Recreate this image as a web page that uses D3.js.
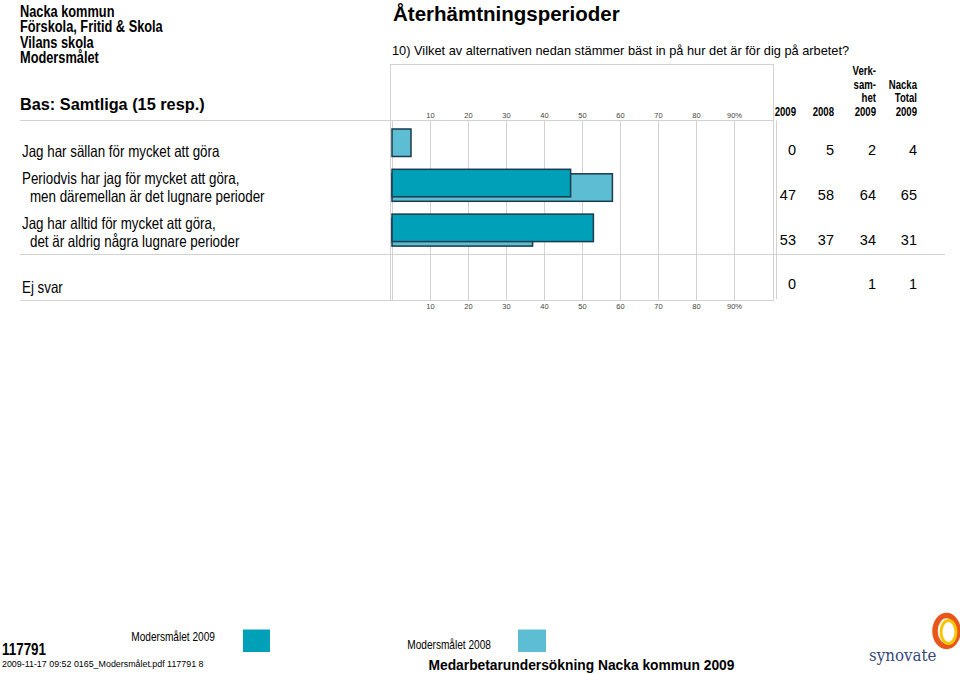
<!DOCTYPE html>
<html>
<head>
<meta charset="utf-8">
<script src="https://cdn.jsdelivr.net/npm/d3@7"></script>
<style>
  body { margin: 0; background: #fff; }
  svg { display: block; font-family: "Liberation Sans", Arial, Helvetica, sans-serif; }
</style>
</head>
<body>
<svg id="chart" width="960" height="674"></svg>
<script>
// ---------- data ----------
const headerLines = ["Nacka kommun", "Förskola, Fritid & Skola", "Vilans skola", "Modersmålet"];
const baseText = "Bas: Samtliga (15 resp.)";
const title = "Återhämtningsperioder";
const question = "10) Vilket av alternativen nedan stämmer bäst in på hur det är för dig på arbetet?";

const categories = [
  ["Jag har sällan för mycket att göra"],
  ["Periodvis har jag för mycket att göra,", "men däremellan är det lugnare perioder"],
  ["Jag har alltid för mycket att göra,", "det är aldrig några lugnare perioder"],
  ["Ej svar"]
];
const values2009 = [0, 47, 53, 0];
const values2008 = [5, 58, 37, null];
const valuesVerksamhet = [2, 64, 34, 1];
const valuesNacka = [4, 65, 31, 1];

const tickValues = [10, 20, 30, 40, 50, 60, 70, 80, 90];
const tickLabels = ["10", "20", "30", "40", "50", "60", "70", "80", "90%"];

const columnHeaders = [
  ["2009"],
  ["2008"],
  ["Verk-", "sam-", "het", "2009"],
  ["Nacka", "Total", "2009"]
];
const legendLabels = ["Modersmålet 2009", "Modersmålet 2008"];
const footerId = "117791";
const footerFile = "2009-11-17 09:52 0165_Modersmålet.pdf 117791  8";
const footerSurvey = "Medarbetarundersökning Nacka kommun 2009";

// ---------- styles ----------
const colDark = "#00a0b9";
const colLight = "#5cbdd3";
const barStroke = "#1c3a4c";
const gridCol = "#d2d2d2";

const svg = d3.select("#chart");

// condensed text helper (no narrow face installed -> horizontal scale)
function ctext(parent, x, y, str, size, sx, opts = {}) {
  const t = parent.append("text")
    .attr("transform", `translate(${x},${y}) scale(${sx},1)`)
    .attr("font-size", size)
    .text(str);
  if (opts.bold) t.attr("font-weight", "bold");
  if (opts.anchor) t.attr("text-anchor", opts.anchor);
  if (opts.fill) t.attr("fill", opts.fill);
  if (opts.family) t.style("font-family", opts.family);
  return t;
}

// ---------- scales ----------
const x = d3.scaleLinear().domain([0, 100]).range([392, 772]);
const rowKeys = categories.map((d, i) => i);
const y = d3.scaleBand().domain(rowKeys).range([127.5, 127.5 + 44.8 * 4]);
const barH = 27.5;

// ---------- header texts ----------
const hdr = svg.append("g");
headerLines.forEach((d, i) => ctext(hdr, 20, 16.5 + i * 15.6, d, 15.6, 0.82, {bold: true}));

svg.append("text")
  .attr("x", 20).attr("y", 110)
  .attr("font-size", 16.3).attr("font-weight", "bold")
  .text(baseText);

svg.append("text")
  .attr("x", 393).attr("y", 21)
  .attr("font-size", 20.5).attr("font-weight", "bold")
  .text(title);

svg.append("text")
  .attr("x", 392).attr("y", 55)
  .attr("font-size", 12.8)
  .text(question);

// ---------- frame / lines ----------
const lines = svg.append("g").attr("stroke", gridCol).attr("fill", "none").attr("stroke-width", 1);
lines.append("rect").attr("x", 390.5).attr("y", 64.5).attr("width", 383).attr("height", 236);
lines.append("line").attr("x1", 20).attr("x2", 773.5).attr("y1", 120.5).attr("y2", 120.5);
lines.append("line").attr("x1", 20).attr("x2", 945).attr("y1", 254.5).attr("y2", 254.5);
lines.append("line").attr("x1", 20).attr("x2", 391).attr("y1", 300.5).attr("y2", 300.5);
lines.append("line").attr("x1", x(0) + 0.5).attr("x2", x(0) + 0.5).attr("y1", 120.5).attr("y2", 300.5);
lines.append("line").attr("x1", 776.5).attr("x2", 776.5).attr("y1", 120.5).attr("y2", 299);

// gridlines
svg.append("g").selectAll("line").data(tickValues).join("line")
  .attr("x1", d => Math.round(x(d)) + 0.5).attr("x2", d => Math.round(x(d)) + 0.5)
  .attr("y1", 120.5).attr("y2", 300.5)
  .attr("stroke", gridCol).attr("stroke-width", 1);

// tick labels (top and bottom)
const fmt = (d, i) => tickLabels[i];
const axisTop = d3.axisTop(x).tickValues(tickValues).tickFormat(fmt).tickSize(0).tickPadding(0);
const axisBottom = d3.axisBottom(x).tickValues(tickValues).tickFormat(fmt).tickSize(0).tickPadding(0);
const gTop = svg.append("g").attr("transform", "translate(0,117.5)").call(axisTop);
const gBot = svg.append("g").attr("transform", "translate(0,304)").call(axisBottom);
[gTop, gBot].forEach(g => {
  g.select(".domain").remove();
  g.selectAll("text").attr("font-family", "Liberation Sans, Arial, sans-serif")
    .attr("font-size", 7.5).attr("fill", "#444");
});

// ---------- bars ----------
const bars = svg.append("g");
bars.selectAll("rect.b2008").data(values2008.map((v, i) => ({v, i})).filter(d => d.v > 0)).join("rect")
  .attr("class", "b2008")
  .attr("x", x(0)).attr("y", d => y(d.i) + 1.5)
  .attr("width", d => x(d.v) - x(0)).attr("height", barH)
  .attr("fill", colLight).attr("stroke", barStroke).attr("stroke-width", 1.5);
bars.selectAll("rect.b2009").data(values2009.map((v, i) => ({v, i})).filter(d => d.v > 0)).join("rect")
  .attr("class", "b2009")
  .attr("x", x(0)).attr("y", d => y(d.i) - 3)
  .attr("width", d => x(d.v) - x(0)).attr("height", barH)
  .attr("fill", colDark).attr("stroke", barStroke).attr("stroke-width", 1.5);

// ---------- category labels ----------
const labG = svg.append("g");
const labSize = 16.3, labSx = 0.82;
categories.forEach((lns, i) => {
  const c = y(i) + y.bandwidth() / 2;
  if (lns.length === 1) {
    ctext(labG, 22, c + (i === categories.length - 1 ? 8.5 : 7), lns[0], labSize, labSx);
  } else {
    ctext(labG, 22, c - 10.5, lns[0], labSize, labSx);
    ctext(labG, 30, c + 7, lns[1], labSize, labSx);
  }
});

// ---------- right table ----------
const colX = [796, 834, 876, 917];
const tableCols = [values2009, values2008, valuesVerksamhet, valuesNacka];
const th = svg.append("g");
columnHeaders.forEach((hl, ci) => {
  const n = hl.length;
  hl.forEach((t, li) => {
    ctext(th, colX[ci], 115.7 - (n - 1 - li) * 13.5, t, 12, 0.8, {bold: true, anchor: "end"});
  });
});
tableCols.forEach((vals, ci) => {
  svg.append("g").selectAll("text").data(vals).join("text")
    .attr("x", colX[ci]).attr("y", (d, i) => y(i) + y.bandwidth() / 2 + 5)
    .attr("text-anchor", "end").attr("font-size", 14.5)
    .text(d => d == null ? "" : d);
});

// ---------- legend ----------
const lg = svg.append("g");
ctext(lg, 215, 641, legendLabels[0], 13.5, 0.75, {anchor: "end"});
lg.append("rect").attr("x", 243).attr("y", 629.5).attr("width", 27).attr("height", 22.5).attr("fill", colDark);
ctext(lg, 491, 649, legendLabels[1], 13.5, 0.75, {anchor: "end"});
lg.append("rect").attr("x", 518).attr("y", 629.5).attr("width", 28).attr("height", 22.5).attr("fill", colLight);

// ---------- footer ----------
ctext(svg, 2, 655, footerId, 17, 0.79, {bold: true});
svg.append("text").attr("x", 2).attr("y", 667)
  .attr("font-size", 8.9).text(footerFile);
svg.append("text").attr("x", 428.5).attr("y", 670)
  .attr("font-size", 13.8).attr("font-weight", "bold").text(footerSurvey);

// ---------- logo ----------
const logo = svg.append("g");
logo.append("ellipse").attr("cx", 946.5).attr("cy", 631).attr("rx", 11.5).attr("ry", 15.5)
  .attr("fill", "none").attr("stroke", "#e8561c").attr("stroke-width", 5.5);
logo.append("ellipse").attr("cx", 948.5).attr("cy", 632).attr("rx", 7.5).attr("ry", 11.5)
  .attr("fill", "none").attr("stroke", "#f7c600").attr("stroke-width", 3);
ctext(logo, 869, 661, "synovate", 17.5, 0.86, {family: "'DejaVu Serif', 'Liberation Serif', serif", fill: "#36497a"});
</script>
</body>
</html>
